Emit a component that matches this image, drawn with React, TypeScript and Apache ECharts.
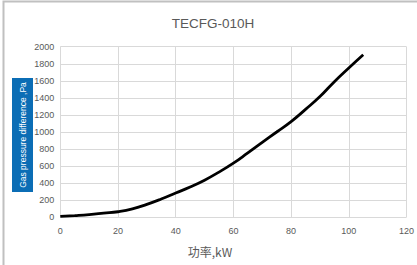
import React, { useEffect, useRef } from "react";
import * as echarts from "echarts";

const titleText = "TECFG-010H";
const xName = "功率,kW";
const yName = "Gas pressure difference ,Pa";
const powerKW = [0, 5, 10, 15, 20, 25, 30, 35, 40, 45, 50, 55, 60, 65, 70, 75, 80, 85, 90, 95, 100, 105];
const pressurePa = [10, 20, 32, 48, 65, 98, 152, 215, 285, 355, 435, 530, 635, 755, 878, 1000, 1122, 1265, 1415, 1590, 1750, 1905];

export default function App() {
  const ref = useRef<HTMLDivElement>(null);
  useEffect(() => {
    const chart = echarts.init(ref.current!, undefined, { renderer: "svg" });
    const font = "'Liberation Sans', Arial, sans-serif";
    chart.setOption({
      animation: false,
      backgroundColor: "#ffffff",
      grid: { left: 60.3, right: 6.7, top: 46.7, bottom: 47.7, containLabel: false },
      xAxis: {
        type: "value",
        min: 0,
        max: 120,
        interval: 20,
        axisLine: { show: false },
        axisTick: { show: false },
        axisLabel: { color: "#595959", fontSize: 9, fontFamily: font, margin: 9, formatter: (v: number) => String(v) },
        splitLine: { show: true, lineStyle: { color: "#d9d9d9", width: 1 } },
      },
      yAxis: {
        type: "value",
        min: 0,
        max: 2000,
        interval: 200,
        axisLine: { show: false },
        axisTick: { show: false },
        axisLabel: { color: "#595959", fontSize: 9, fontFamily: font, margin: 6, formatter: (v: number) => String(v) },
        splitLine: { show: true, lineStyle: { color: "#d9d9d9", width: 1 } },
      },
      series: [
        {
          type: "line",
          data: powerKW.map((x, i) => [x, pressurePa[i]]),
          smooth: 0.5,
          showSymbol: false,
          lineStyle: { color: "#000000", width: 2.8 },
        },
      ],
      graphic: [
        {
          type: "rect",
          shape: { x: 3.5, y: 1.5, width: 430, height: 280 },
          style: { fill: "none", stroke: "#c0c0c0", lineWidth: 2 },
          z: 100,
        },
        {
          type: "text",
          x: 213,
          y: 23,
          style: {
            text: titleText,
            fill: "#595959",
            fontSize: 13.5,
            fontFamily: font,
            textAlign: "center",
            textVerticalAlign: "middle",
          },
        },
        {
          type: "text",
          x: 210,
          y: 251.5,
          style: {
            text: xName,
            fill: "#595959",
            fontSize: 12,
            fontFamily: "'Noto Sans CJK SC', sans-serif",
            textAlign: "center",
            textVerticalAlign: "middle",
          },
        },
        {
          type: "rect",
          shape: { x: 12, y: 78, width: 21, height: 114 },
          style: { fill: "#0b6db5" },
        },
        {
          type: "text",
          x: 22.5,
          y: 135,
          rotation: Math.PI / 2,
          style: {
            text: yName,
            fill: "#ffffff",
            fontSize: 8.5,
            fontFamily: font,
            textAlign: "center",
            textVerticalAlign: "middle",
          },
        },
      ],
    });
    return () => chart.dispose();
  }, []);
  return <div ref={ref} style={{ width: 417, height: 265, position: "fixed", left: 0, top: 0 }} />;
}
